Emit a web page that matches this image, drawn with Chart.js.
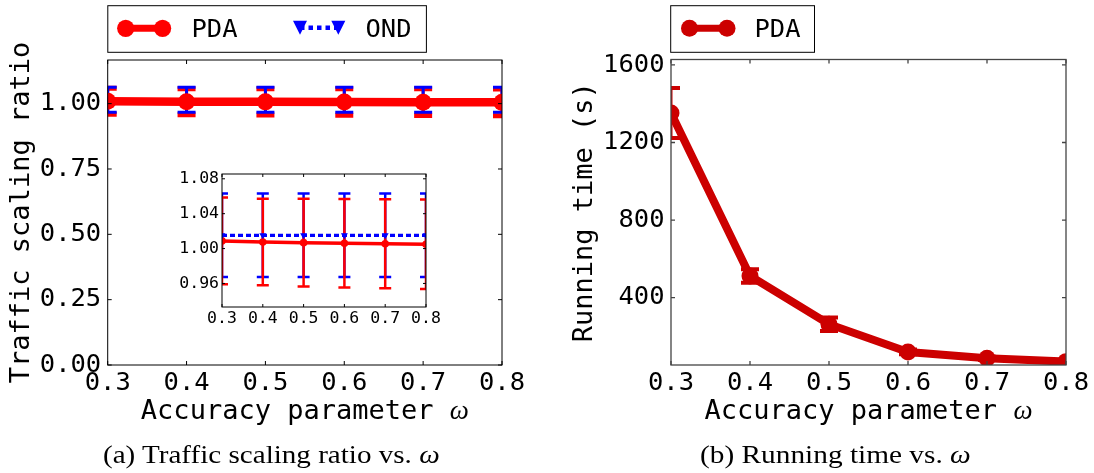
<!DOCTYPE html>
<html>
<head>
<meta charset="utf-8">
<script src="https://cdn.jsdelivr.net/npm/chart.js@4.4.1/dist/chart.umd.min.js"></script>
<style>
  html, body { margin: 0; padding: 0; background: #fff; }
  body { width: 1094px; height: 473px; position: relative; overflow: hidden; }
  canvas { position: absolute; }
  .xtitle { position: absolute; font: 27px "DejaVu Sans Mono"; line-height: 30px; text-align: center; white-space: pre; color: #000; }
  .xtitle i { font-family: "Liberation Serif"; font-size: 27px; }
  .caption { position: absolute; font: 25px "Liberation Serif"; line-height: 30px; white-space: pre; color: #000; transform-origin: 0 0; }
</style>
</head>
<body>
<canvas id="ratioChart" width="547" height="473" style="left:0px;top:0px"></canvas>
<canvas id="ratioZoom" width="300" height="190" style="left:150px;top:160px"></canvas>
<canvas id="timeChart" width="547" height="473" style="left:547px;top:0px"></canvas>
<div class="xtitle" style="left:107.7px;width:394.3px;top:395px">Accuracy parameter <i>ω</i></div>
<div class="xtitle" style="left:671px;width:395px;top:395px">Accuracy parameter <i>ω</i></div>
<div class="caption" id="capA" data-center="271.7" data-width="336.7" style="top:440px">(a) Traffic scaling ratio vs. <i>ω</i></div>
<div class="caption" id="capB" data-center="835.1" data-width="270.8" style="top:440px">(b) Running time vs. <i>ω</i></div>
<script>
// accuracy parameter values on the x axis
const omega = [0.3, 0.4, 0.5, 0.6, 0.7, 0.8];

// traffic scaling ratio: mean and standard deviation per omega
const pdaRatio    = [1.0088, 1.0074, 1.0068, 1.0061, 1.0055, 1.0049];
const pdaRatioErr = [0.0498, 0.0496, 0.0502, 0.0506, 0.0511, 0.0514];
const ondRatio    = [1.0152, 1.0152, 1.0152, 1.0152, 1.0152, 1.0152];
const ondRatioErr = [0.0479, 0.0479, 0.0479, 0.0479, 0.0479, 0.0479];

// running time of PDA in seconds
const pdaTime    = [1352, 512, 263, 120, 87, 70];
const pdaTimeErr = [129, 35, 35, 12, 8, 6];

// tick values
const ratioTicks = [0, 0.25, 0.5, 0.75, 1.0];
const zoomTicks  = [0.96, 1.00, 1.04, 1.08];
const timeTicks  = [400, 800, 1200, 1600];

const MONO = 'DejaVu Sans Mono';
const RED = '#ff0000', BLUE = '#0000ff', DARKRED = '#cc0000';

Chart.defaults.font.family = MONO;
Chart.defaults.color = '#000';
Chart.defaults.animation = false;

const points = ys => omega.map((x, i) => ({ x, y: ys[i] }));
const setTicks = values => scale => { scale.ticks = values.map(v => ({ value: v })); };
const fixWidth = w => scale => { scale.width = w; };
const fixHeight = h => scale => { scale.height = h; };

// vertical error bars with caps, drawn under the series
function errorBars(sets) {
  return {
    id: 'errorBars',
    beforeDatasetsDraw(chart) {
      const { ctx, chartArea: a, scales: { x, y } } = chart;
      ctx.save();
      ctx.beginPath();
      ctx.rect(a.left, a.top, a.right - a.left, a.bottom - a.top);
      ctx.clip();
      for (const s of sets) {
        ctx.strokeStyle = s.color;
        s.mean.forEach((m, i) => {
          const px = x.getPixelForValue(omega[i]);
          const hi = y.getPixelForValue(m + s.err[i]);
          const lo = y.getPixelForValue(m - s.err[i]);
          ctx.lineWidth = s.bar;
          ctx.beginPath(); ctx.moveTo(px, hi); ctx.lineTo(px, lo); ctx.stroke();
          ctx.lineWidth = s.capThick;
          ctx.beginPath();
          ctx.moveTo(px - s.cap, hi); ctx.lineTo(px + s.cap, hi);
          ctx.moveTo(px - s.cap, lo); ctx.lineTo(px + s.cap, lo);
          ctx.stroke();
        });
      }
      ctx.restore();
    }
  };
}

// axes box with inward tick marks on all four sides
function frame(color, width, len) {
  return {
    id: 'frame',
    afterDatasetsDraw(chart) {
      const { ctx, chartArea: a, scales: { x, y } } = chart;
      ctx.save();
      ctx.strokeStyle = color;
      ctx.lineWidth = width;
      ctx.beginPath();
      for (const t of x.ticks) {
        const p = x.getPixelForValue(t.value);
        ctx.moveTo(p, a.bottom); ctx.lineTo(p, a.bottom - len);
        ctx.moveTo(p, a.top); ctx.lineTo(p, a.top + len);
      }
      for (const t of y.ticks) {
        const p = y.getPixelForValue(t.value);
        ctx.moveTo(a.left, p); ctx.lineTo(a.left + len, p);
        ctx.moveTo(a.right, p); ctx.lineTo(a.right - len, p);
      }
      ctx.stroke();
      ctx.strokeRect(a.left, a.top, a.right - a.left, a.bottom - a.top);
      ctx.restore();
    }
  };
}

// boxed legend above the axes
function legendBox(box, entries) {
  return {
    id: 'legendBox',
    afterDraw(chart) {
      const ctx = chart.ctx;
      const ds = chart.data.datasets;
      ctx.save();
      ctx.lineWidth = 1;
      ctx.strokeStyle = '#000';
      ctx.strokeRect(box.x, box.y, box.w, box.h);
      for (const e of entries) {
        const d = ds[e.ds];
        ctx.strokeStyle = d.borderColor;
        ctx.lineWidth = e.lw;
        ctx.setLineDash(e.dash || []);
        ctx.beginPath(); ctx.moveTo(e.m0, e.y); ctx.lineTo(e.m1, e.y); ctx.stroke();
        ctx.setLineDash([]);
        ctx.fillStyle = d.borderColor;
        for (const mx of [e.m0, e.m1]) {
          ctx.beginPath();
          if (e.marker === 'circle') {
            ctx.arc(mx, e.y, e.r, 0, Math.PI * 2);
          } else {
            ctx.moveTo(mx - e.r, e.y - e.r);
            ctx.lineTo(mx + e.r, e.y - e.r);
            ctx.lineTo(mx, e.y + e.r);
            ctx.closePath();
          }
          ctx.fill();
        }
        ctx.fillStyle = '#000';
        ctx.font = e.fs + 'px "' + MONO + '"';
        ctx.textBaseline = 'alphabetic';
        ctx.textAlign = 'left';
        ctx.fillText(d.label, e.tx, e.ty);
      }
      ctx.restore();
    }
  };
}

const tickFont = { family: MONO, size: 25.5 };
const titleFont = { family: MONO, size: 27 };

// (a) traffic scaling ratio
new Chart(document.getElementById('ratioChart'), {
  type: 'line',
  data: {
    datasets: [
      { label: 'PDA', data: points(pdaRatio), borderColor: RED, backgroundColor: RED,
        borderWidth: 8.5, pointRadius: 8.5, pointBackgroundColor: RED, pointBorderColor: RED,
        pointBorderWidth: 0, tension: 0, clip: 0 },
      { label: 'OND', data: points(ondRatio), borderColor: BLUE, backgroundColor: BLUE,
        borderWidth: 3, borderDash: [4.3, 4], pointStyle: 'triangle', rotation: 180,
        pointRadius: 6, pointBackgroundColor: BLUE, pointBorderColor: BLUE, pointBorderWidth: 0,
        tension: 0, clip: 0 }
    ]
  },
  options: {
    responsive: false,
    events: [],
    layout: { padding: { left: 5.8, top: 60, right: 45, bottom: 68 } },
    plugins: { legend: { display: false }, tooltip: { enabled: false } },
    scales: {
      x: {
        type: 'linear', min: 0.3, max: 0.8,
        afterBuildTicks: setTicks(omega), afterFit: fixHeight(40),
        grid: { display: false, drawTicks: false }, border: { display: false },
        ticks: { font: tickFont, padding: 2.9, autoSkip: false, maxRotation: 0,
                 callback: v => v.toFixed(1) }
      },
      y: {
        type: 'linear', min: 0, max: 1.167,
        afterBuildTicks: setTicks(ratioTicks), afterFit: fixWidth(101.9),
        grid: { display: false, drawTicks: false }, border: { display: false },
        ticks: { font: tickFont, padding: 6.5, callback: v => v.toFixed(2) },
        title: { display: true, text: 'Traffic scaling ratio', font: titleFont, padding: 0, color: '#000' }
      }
    }
  },
  plugins: [
    errorBars([
      { mean: pdaRatio, err: pdaRatioErr, color: RED, bar: 3, cap: 9, capThick: 5 },
      { mean: ondRatio, err: ondRatioErr, color: BLUE, bar: 3, cap: 9, capThick: 3 }
    ]),
    frame('#000', 1, 4),
    legendBox({ x: 107.8, y: 5.7, w: 318.6, h: 46.6 }, [
      { ds: 0, marker: 'circle', m0: 125.7, m1: 162.6, y: 28.3, r: 8.6, lw: 7, tx: 191.5, ty: 36.5, fs: 25.5 },
      { ds: 1, marker: 'tri', m0: 300, m1: 338.3, y: 27.8, r: 7, lw: 4.5, dash: [4.5, 4], tx: 365.5, ty: 36.5, fs: 25.5 }
    ])
  ]
});

// (a) inset: zoom around 1.0
new Chart(document.getElementById('ratioZoom'), {
  type: 'line',
  data: {
    datasets: [
      { label: 'PDA', data: points(pdaRatio), borderColor: RED, backgroundColor: RED,
        borderWidth: 3.5, pointRadius: 3.8, pointBackgroundColor: RED, pointBorderColor: RED,
        pointBorderWidth: 0, tension: 0, clip: 0, order: 1 },
      { label: 'OND', data: points(ondRatio), borderColor: BLUE, backgroundColor: BLUE,
        borderWidth: 3.3, borderDash: [5, 3], pointStyle: 'triangle', rotation: 180,
        pointRadius: 4, pointBackgroundColor: BLUE, pointBorderColor: BLUE, pointBorderWidth: 0,
        tension: 0, clip: 0, order: 0 }
    ]
  },
  options: {
    responsive: false,
    events: [],
    layout: { padding: { left: 0, top: 14, right: 24, bottom: 18 } },
    plugins: { legend: { display: false }, tooltip: { enabled: false } },
    scales: {
      x: {
        type: 'linear', min: 0.3, max: 0.8,
        afterBuildTicks: setTicks(omega), afterFit: fixHeight(25),
        grid: { display: false, drawTicks: false }, border: { display: false },
        ticks: { font: { family: MONO, size: 16.5 }, padding: 2.3, autoSkip: false, maxRotation: 0,
                 callback: v => v.toFixed(1) }
      },
      y: {
        type: 'linear', min: 0.933, max: 1.0855,
        afterBuildTicks: setTicks(zoomTicks), afterFit: fixWidth(72),
        grid: { display: false, drawTicks: false }, border: { display: false },
        ticks: { font: { family: MONO, size: 16.5 }, padding: 3, callback: v => v.toFixed(2) }
      }
    }
  },
  plugins: [
    errorBars([
      { mean: ondRatio, err: ondRatioErr, color: BLUE, bar: 2.5, cap: 6, capThick: 2.5 },
      { mean: pdaRatio, err: pdaRatioErr, color: RED, bar: 2.5, cap: 6, capThick: 2.5 }
    ]),
    frame('#000', 1, 3)
  ]
});

// (b) running time
new Chart(document.getElementById('timeChart'), {
  type: 'line',
  data: {
    datasets: [
      { label: 'PDA', data: points(pdaTime), borderColor: DARKRED, backgroundColor: DARKRED,
        borderWidth: 8, pointRadius: 8.5, pointBackgroundColor: DARKRED, pointBorderColor: DARKRED,
        pointBorderWidth: 0, tension: 0, clip: 0 }
    ]
  },
  options: {
    responsive: false,
    events: [],
    layout: { padding: { left: 21.8, top: 59.5, right: 28, bottom: 68 } },
    plugins: { legend: { display: false }, tooltip: { enabled: false } },
    scales: {
      x: {
        type: 'linear', min: 0.3, max: 0.8,
        afterBuildTicks: setTicks(omega), afterFit: fixHeight(40),
        grid: { display: false, drawTicks: false }, border: { display: false },
        ticks: { font: tickFont, padding: 2.9, autoSkip: false, maxRotation: 0,
                 callback: v => v.toFixed(1) }
      },
      y: {
        type: 'linear', min: 52.6, max: 1628,
        afterBuildTicks: setTicks(timeTicks), afterFit: fixWidth(102.2),
        grid: { display: false, drawTicks: false }, border: { display: false },
        ticks: { font: tickFont, padding: 6.5, callback: v => String(v) },
        title: { display: true, text: 'Running time (s)', font: titleFont, padding: 0, color: '#000' }
      }
    }
  },
  plugins: [
    errorBars([
      { mean: pdaTime, err: pdaTimeErr, color: DARKRED, bar: 3, cap: 9, capThick: 4 }
    ]),
    frame('#444', 1.3, 4),
    legendBox({ x: 123.7, y: 5.7, w: 143.8, h: 46.6 }, [
      { ds: 0, marker: 'circle', m0: 142.5, m1: 180, y: 28.3, r: 8.5, lw: 7, tx: 207.5, ty: 36.5, fs: 25.5 }
    ])
  ]
});

// captions: centre each one and set its width
for (const el of document.querySelectorAll('.caption')) {
  const w = el.getBoundingClientRect().width;
  const k = parseFloat(el.dataset.width) / w;
  el.style.left = (parseFloat(el.dataset.center) - parseFloat(el.dataset.width) / 2) + 'px';
  el.style.transform = 'scaleX(' + k + ')';
}
</script>
</body>
</html>
